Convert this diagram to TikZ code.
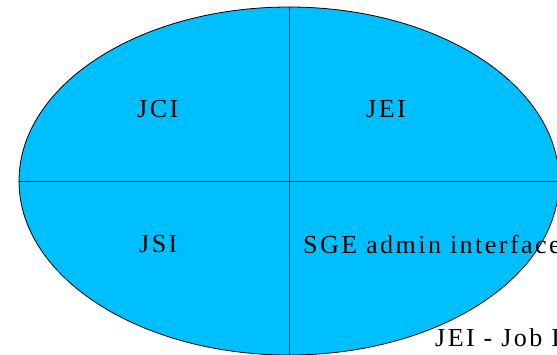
\documentclass[tikz,border=0pt]{standalone}
\usepackage{fontspec}
\usetikzlibrary{shapes.geometric}
\setmainfont{Liberation Serif}[LetterSpace=9.5]
\definecolor{interfaceblue}{RGB}{0,191,255}
\begin{document}
\begin{tikzpicture}[x=1pt,y=-1pt,
  label/.style={anchor=base west,inner sep=0pt,font=\fontsize{26}{30}\selectfont}]
\useasboundingbox (0,0) rectangle (557,354);
\clip (0,0) rectangle (557,354);
% the four interface quadrants
\node[ellipse,draw=black,fill=interfaceblue,line width=0.8pt,
      minimum width=540pt,minimum height=348pt,inner sep=0pt] (oval) at (289,181) {};
\coordinate (top) at (289,7);
\coordinate (bottom) at (289,356);
\coordinate (left) at (19,181);
\coordinate (right) at (560,181);
\draw[line width=0.8pt] (top) -- (bottom);
\draw[line width=0.8pt] (left) -- (right);
% quadrant labels
\node[label] (jci) at (137,117) {JCI};
\node[label] (jei) at (366,117) {JEI};
\node[label] (jsi) at (139,252) {JSI};
\node[label] (sge) at (303,253) {SGE admin interface};
\node[label] (legend) at (435,346) {JEI - Job I};
\end{tikzpicture}
\end{document}
